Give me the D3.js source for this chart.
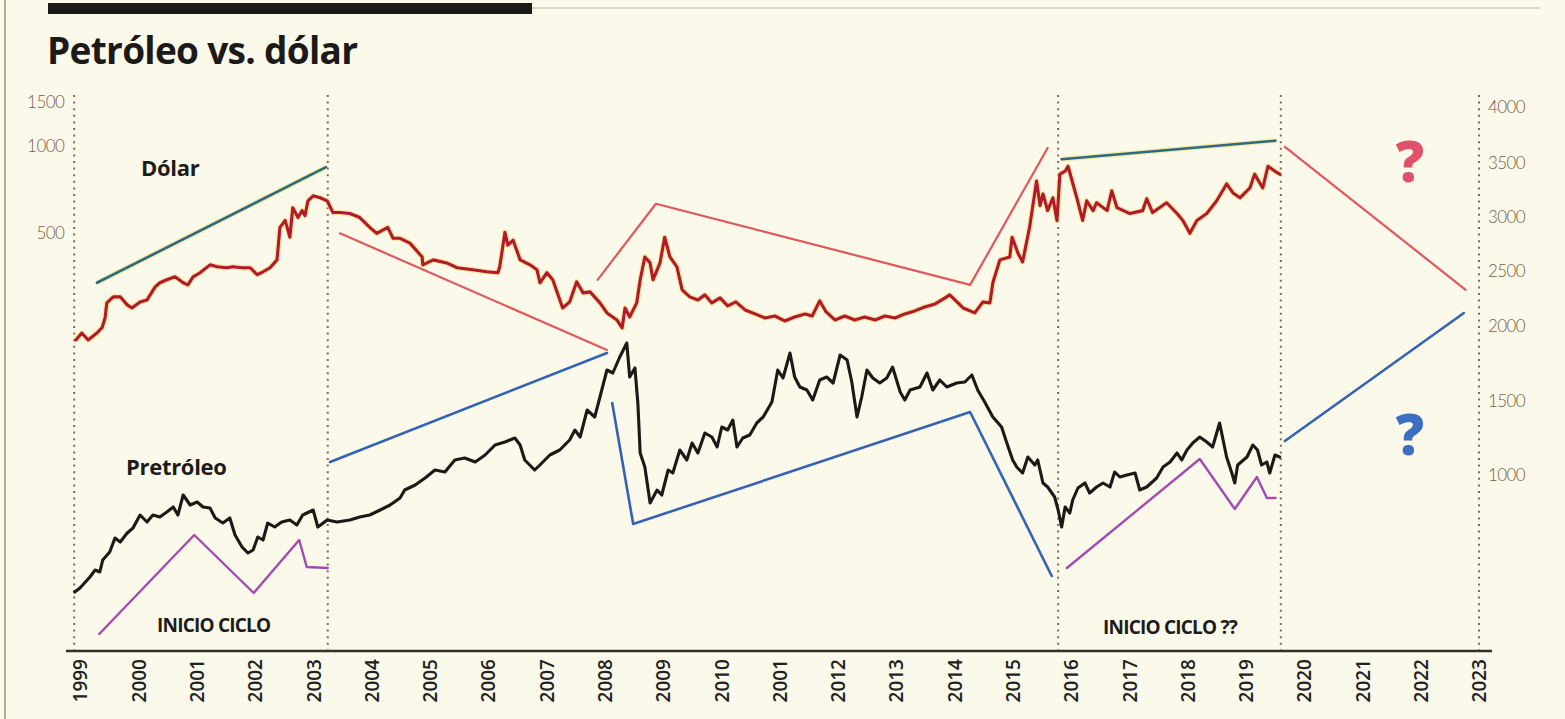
<!DOCTYPE html>
<html lang="es">
<head>
<meta charset="UTF-8">
<title>Petróleo vs. dólar</title>
<script src="https://d3js.org/d3.v7.min.js"></script>
<style>
  body { margin: 0; background: #fbf9ea; }
  svg { display: block; }
  .titulo { font-family: "Open Sans", sans-serif; font-weight: 700; font-size: 37px; fill: #1b1a18; letter-spacing: -0.7px; }
  .rotulo { font-family: "Open Sans", sans-serif; font-weight: 700; font-size: 22px; fill: #1e1c1a; letter-spacing: -0.3px; }
  .ciclo { font-family: "Open Sans", sans-serif; font-weight: 700; font-size: 19px; fill: #1e1c1a; letter-spacing: -0.8px; }
  .eje text { font-family: Lato, sans-serif; font-weight: 300; font-size: 17px; fill: #7b5b4b; letter-spacing: -0.6px; }
  .anios text { font-family: "Open Sans", sans-serif; font-weight: 600; font-size: 19px; fill: #222; }
  .punteada { stroke: #7d6a58; stroke-width: 2; stroke-dasharray: 2 4.6; fill: none; }
  .pregunta { font-family: "Open Sans", sans-serif; font-weight: 800; font-size: 56px; text-anchor: middle; }
</style>
</head>
<body>
<svg width="1565" height="719"></svg>
<script>
  // años del eje x (la etiqueta de 2011 viene impresa como "2001" en el original)
  const anios = [1999,2000,2001,2002,2003,2004,2005,2006,2007,2008,2009,2010,2011,2012,2013,2014,2015,2016,2017,2018,2019,2020,2021,2022,2023];
  const etiquetasAnios = ["1999","2000","2001","2002","2003","2004","2005","2006","2007","2008","2009","2010","2001","2012","2013","2014","2015","2016","2017","2018","2019","2020","2021","2022","2023"];
  const ticksDerecha = [1000,1500,2000,2500,3000,3500,4000];
  const ticksIzquierda = [500,1000,1500];
  const cortes = [1998.9, 2003.25, 2015.78, 2019.6, 2023.0];

  // dólar (pesos, eje derecho)
  const dolar = [
    [1998.93,1907],[1999.03,1953],[1999.14,1907],[1999.29,1953],[1999.38,1990],[1999.43,2073],[1999.46,2210],
    [1999.57,2265],[1999.69,2265],[1999.81,2192],[1999.89,2164],[2000.03,2219],[2000.15,2237],[2000.29,2356],
    [2000.37,2393],[2000.49,2420],[2000.63,2447],[2000.77,2393],[2000.85,2374],[2000.94,2447],[2001.06,2484],
    [2001.23,2557],[2001.35,2539],[2001.52,2530],[2001.62,2539],[2001.78,2530],[2001.92,2530],[2002.04,2466],
    [2002.14,2493],[2002.26,2530],[2002.38,2603],[2002.43,2904],[2002.52,2968],[2002.60,2813],[2002.65,3086],
    [2002.74,2995],[2002.81,3059],[2002.86,3013],[2002.91,3150],[2003.00,3196],[2003.12,3178],[2003.24,3150],
    [2003.34,3041],[2003.46,3041],[2003.63,3032],[2003.80,2995],[2003.97,2904],[2004.09,2849],[2004.28,2904],
    [2004.37,2803],[2004.49,2803],[2004.66,2758],[2004.87,2630],[2004.88,2557],[2005.06,2603],[2005.29,2575],
    [2005.47,2530],[2005.74,2511],[2005.98,2493],[2006.17,2484],[2006.20,2539],[2006.29,2858],[2006.34,2740],
    [2006.43,2785],[2006.55,2603],[2006.72,2557],[2006.84,2511],[2006.89,2393],[2007.01,2484],[2007.11,2420],
    [2007.28,2164],[2007.40,2219],[2007.52,2402],[2007.63,2301],[2007.75,2310],[2007.92,2210],[2008.04,2119],
    [2008.21,2055],[2008.30,1987],[2008.35,2164],[2008.43,2082],[2008.55,2210],[2008.61,2420],[2008.69,2630],
    [2008.78,2575],[2008.83,2420],[2008.95,2575],[2009.03,2813],[2009.12,2630],[2009.24,2539],[2009.33,2329],
    [2009.46,2265],[2009.60,2237],[2009.72,2283],[2009.84,2210],[2009.98,2256],[2010.11,2183],[2010.25,2219],
    [2010.41,2146],[2010.58,2110],[2010.75,2073],[2010.92,2091],[2011.09,2046],[2011.26,2082],[2011.44,2110],
    [2011.56,2091],[2011.69,2228],[2011.80,2128],[2011.95,2055],[2012.12,2091],[2012.29,2055],[2012.46,2082],
    [2012.64,2055],[2012.81,2091],[2012.98,2073],[2013.15,2110],[2013.32,2137],[2013.49,2173],[2013.67,2201],
    [2013.84,2256],[2013.92,2283],[2014.15,2164],[2014.35,2119],[2014.49,2219],[2014.61,2210],[2014.66,2393],
    [2014.78,2603],[2014.95,2630],[2014.99,2813],[2015.09,2667],[2015.17,2584],[2015.29,2904],[2015.41,3333],
    [2015.47,3105],[2015.52,3214],[2015.60,3059],[2015.69,3178],[2015.76,2968],[2015.81,3397],[2015.90,3424],
    [2015.95,3470],[2016.02,3333],[2016.10,3178],[2016.20,2968],[2016.27,3150],[2016.38,3059],[2016.44,3132],
    [2016.62,3059],[2016.70,3242],[2016.79,3086],[2017.01,3032],[2017.23,3059],[2017.30,3169],[2017.40,3041],
    [2017.64,3132],[2017.82,3032],[2017.92,2968],[2018.04,2849],[2018.16,2968],[2018.33,3032],[2018.50,3150],
    [2018.67,3306],[2018.78,3223],[2018.90,3178],[2019.07,3269],[2019.15,3397],[2019.29,3269],[2019.38,3470],
    [2019.50,3424],[2019.58,3397]
  ];

  // petróleo (índice del gráfico)
  const petroleo = [
    [1998.91,24],[1999.00,26],[1999.17,31.5],[1999.26,35],[1999.34,34],[1999.39,40],[1999.51,44],[1999.60,51],
    [1999.69,49],[1999.81,53.5],[1999.91,56],[2000.03,62.5],[2000.15,59],[2000.25,62.5],[2000.37,61.5],[2000.49,64],
    [2000.60,66.5],[2000.68,62.5],[2000.77,72.5],[2000.89,67.5],[2001.01,69],[2001.11,66.5],[2001.23,66],[2001.32,61],
    [2001.45,58.5],[2001.57,61],[2001.66,52.5],[2001.78,46.5],[2001.88,43.5],[2001.97,45],[2002.05,51.5],[2002.14,50],
    [2002.22,58.5],[2002.34,56.5],[2002.46,59],[2002.60,60],[2002.72,57.5],[2002.82,62.5],[2003.00,65],[2003.08,56.5],
    [2003.24,60],[2003.41,59],[2003.63,60],[2003.80,61.5],[2003.97,62.5],[2004.15,65],[2004.32,67.5],[2004.49,71],
    [2004.57,75],[2004.75,77.5],[2004.92,81],[2005.09,85],[2005.26,84],[2005.43,90],[2005.60,91],[2005.78,89],
    [2005.95,92.5],[2006.12,97.5],[2006.29,99],[2006.46,101],[2006.55,97.5],[2006.63,90],[2006.80,85],[2006.89,87.5],
    [2007.06,92.5],[2007.23,95],[2007.40,100],[2007.49,105],[2007.58,101.5],[2007.70,115],[2007.83,111.5],[2007.92,121.5],
    [2008.04,135],[2008.14,133.5],[2008.26,141.5],[2008.38,148.5],[2008.43,131.5],[2008.52,136],[2008.57,118.5],[2008.61,93.5],
    [2008.69,86.5],[2008.74,76.5],[2008.78,68.5],[2008.90,75],[2008.98,72.5],[2009.09,85],[2009.17,83.5],[2009.29,95],
    [2009.41,90],[2009.50,98.5],[2009.60,93.5],[2009.72,103.5],[2009.84,101.5],[2009.93,96.5],[2010.01,106.5],[2010.11,105],
    [2010.20,110],[2010.27,96.5],[2010.37,101],[2010.49,102.5],[2010.61,108.5],[2010.72,111.5],[2010.87,119],[2010.97,135],
    [2011.06,131],[2011.18,143.5],[2011.26,131.5],[2011.35,126.5],[2011.47,125],[2011.57,120],[2011.69,130],[2011.81,131.5],
    [2011.92,128.5],[2012.04,142.5],[2012.16,140],[2012.24,129],[2012.33,111.5],[2012.41,121.5],[2012.50,135],[2012.60,131],
    [2012.72,128.5],[2012.84,131],[2012.94,136.5],[2013.07,124],[2013.15,120],[2013.24,125],[2013.41,126.5],[2013.53,133.5],
    [2013.63,125],[2013.75,130],[2013.87,126.5],[2014.04,128.5],[2014.18,129],[2014.30,132.5],[2014.40,125],[2014.52,119],
    [2014.66,111.5],[2014.81,106.5],[2014.90,98.5],[2015.00,90],[2015.07,86.5],[2015.17,83.5],[2015.26,91.5],[2015.38,87.5],
    [2015.43,90],[2015.52,78.5],[2015.60,76.5],[2015.72,71.5],[2015.78,65],[2015.84,56.5],[2015.90,66.5],[2015.98,63.5],
    [2016.03,70],[2016.12,76],[2016.24,78.5],[2016.32,73.5],[2016.44,76.5],[2016.55,78.5],[2016.67,76.5],[2016.75,84],
    [2016.84,81.5],[2016.96,82.5],[2017.10,83.5],[2017.18,75],[2017.30,76.5],[2017.47,81],[2017.58,86.5],[2017.70,89],
    [2017.82,93.5],[2017.90,90],[2017.99,95],[2018.09,98.5],[2018.21,101.5],[2018.33,99],[2018.43,96.5],[2018.55,108.5],
    [2018.61,100],[2018.67,91.5],[2018.76,83.5],[2018.81,78.5],[2018.86,87.5],[2019.02,91.5],[2019.12,97.5],[2019.20,95],
    [2019.27,87.5],[2019.36,89],[2019.41,83.5],[2019.50,92.5],[2019.58,91.5]
  ];

  // líneas de tendencia dibujadas a mano
  const tendenciaDolarVerde = [
    [[1999.29,2393],[2003.22,3461]],
    [[2015.84,3534],[2019.51,3699]]
  ];
  const tendenciaDolarRoja = [
    [[2003.46,2849],[2008.04,1840]],
    [[2007.88,2420],[2008.88,3123],[2014.27,2374],[2015.60,3634]],
    [[2019.67,3644],[2022.77,2329]]
  ];
  const tendenciaPetroleoAzul = [
    [[2003.29,89],[2008.04,143.5]],
    [[2008.13,118.5],[2008.49,58],[2014.27,114],[2015.67,32]],
    [[2019.67,99.5],[2022.74,163.5]]
  ];
  const cicloMorado = [
    [[1999.33,3],[2000.96,52.5],[2001.98,23.5],[2002.76,50],[2002.89,36.5],[2003.25,36]],
    [[2015.93,36],[2018.21,90.5],[2018.81,65.5],[2019.19,81.5],[2019.36,71],[2019.51,71]]
  ];

  const svg = d3.select("svg");
  const yTope = 95, yBase = 651;

  const x = d3.scaleLinear().domain([1999, 2023]).range([80, 1479]);
  const yDer = d3.scaleLinear().domain(ticksDerecha).range([475, 401, 326, 271, 217, 163, 107]);
  const yIzq = d3.scaleLinear().domain(ticksIzquierda).range([233, 146, 102]);
  const yPet = d3.scaleLinear().domain([0, 150]).range([640, 340]);

  // marco y barra superior
  svg.append("line").attr("x1", 5).attr("x2", 5).attr("y1", 0).attr("y2", 719)
    .attr("stroke", "#a58a7a").attr("stroke-width", 1.5);
  svg.append("line").attr("x1", 532).attr("x2", 1540).attr("y1", 8).attr("y2", 8)
    .attr("stroke", "#b9b3a6").attr("stroke-width", 1.2);
  svg.append("rect").attr("x", 48).attr("y", 3).attr("width", 484).attr("height", 11).attr("fill", "#1c1a18");

  svg.append("text").attr("class", "titulo").attr("x", 47).attr("y", 64).text("Petróleo vs. dólar");

  // verticales punteadas
  svg.selectAll(".corte")
    .data(cortes)
    .enter()
    .append("line")
    .attr("class", "punteada")
    .attr("x1", d => x(d)).attr("x2", d => x(d))
    .attr("y1", yTope).attr("y2", yBase);

  // eje horizontal
  svg.append("line").attr("x1", 66).attr("x2", 1492).attr("y1", yBase).attr("y2", yBase)
    .attr("stroke", "#35302b").attr("stroke-width", 2.5);

  const ejeX = svg.append("g").attr("class", "anios")
    .attr("transform", `translate(0,${yBase})`)
    .call(d3.axisBottom(x).tickValues(anios).tickSize(0).tickFormat((d, i) => etiquetasAnios[i]));
  ejeX.select(".domain").remove();
  ejeX.selectAll("text")
    .attr("text-anchor", "end")
    .attr("transform", "translate(0,8) rotate(-90)")
    .attr("x", 0).attr("y", 0).attr("dy", "0.36em");

  const ejeDer = svg.append("g").attr("class", "eje")
    .attr("transform", `translate(${x(2023)},0)`)
    .call(d3.axisRight(yDer).tickValues(ticksDerecha).tickSize(0).tickPadding(9).tickFormat(d3.format("d")));
  ejeDer.select(".domain").remove();

  const ejeIzq = svg.append("g").attr("class", "eje")
    .attr("transform", `translate(${x(1998.9)},0)`)
    .call(d3.axisLeft(yIzq).tickValues(ticksIzquierda).tickSize(0).tickPadding(10).tickFormat(d3.format("d")));
  ejeIzq.select(".domain").remove();

  const lineaDolar = d3.line().x(d => x(d[0])).y(d => yDer(d[1]));
  const lineaPet = d3.line().x(d => x(d[0])).y(d => yPet(d[1]));

  function trazos(datos, linea, color, ancho, halo) {
    const g = svg.append("g");
    if (halo) {
      g.selectAll(".halo").data(datos).enter().append("path")
        .attr("d", linea).attr("fill", "none")
        .attr("stroke", "#f1df6c").attr("stroke-opacity", 0.55)
        .attr("stroke-width", ancho + 2.5).attr("stroke-linejoin", "round");
    }
    g.selectAll(".t").data(datos).enter().append("path")
      .attr("d", linea).attr("fill", "none")
      .attr("stroke", color).attr("stroke-width", ancho)
      .attr("stroke-linejoin", "round").attr("stroke-linecap", "round");
  }

  trazos(tendenciaDolarVerde, lineaDolar, "#2c6a84", 2.6, true);
  trazos(tendenciaDolarRoja, lineaDolar, "#e0585c", 2.2, false);
  trazos(tendenciaPetroleoAzul, lineaPet, "#3463b5", 2.6, false);
  trazos(cicloMorado, lineaPet, "#a24bb3", 2.4, false);

  trazos([dolar], lineaDolar, "#b2192c", 3.1, true);
  trazos([petroleo], lineaPet, "#1d1916", 3.1, false);

  // rótulos
  svg.append("text").attr("class", "rotulo").attr("x", 141).attr("y", 176).text("Dólar");
  svg.append("text").attr("class", "rotulo").attr("x", 126).attr("y", 475).text("Pretróleo");
  svg.append("text").attr("class", "ciclo").attr("x", 157).attr("y", 632).text("INICIO CICLO");
  svg.append("text").attr("class", "ciclo").attr("x", 1103).attr("y", 634).text("INICIO CICLO ??");

  svg.append("text").attr("class", "pregunta").attr("x", 1410).attr("y", 182).attr("fill", "#e0516a").text("?");
  svg.append("text").attr("class", "pregunta").attr("x", 1410).attr("y", 455).attr("fill", "#3a6fc4").text("?");
</script>
</body>
</html>
